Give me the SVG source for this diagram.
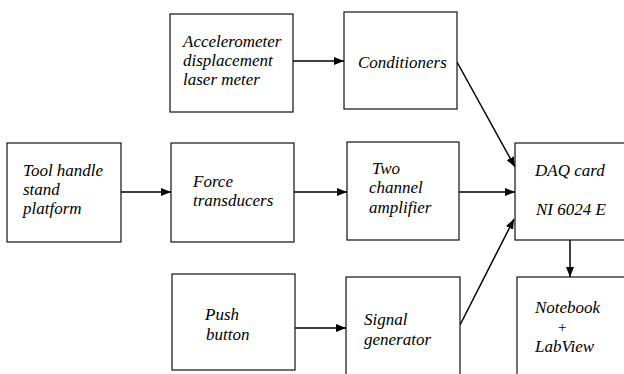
<svg xmlns="http://www.w3.org/2000/svg" width="624" height="374" viewBox="0 0 624 374">
<style>
.box{fill:#fff;stroke:#111;stroke-width:1.2}
.t{font-family:'Liberation Serif','Times New Roman','DejaVu Serif',serif;font-style:italic;font-size:17px;fill:#000}
.c{stroke:#000;stroke-width:1.5;fill:none;marker-end:url(#ah)}
</style>
<defs>
<marker id="ah" markerWidth="10" markerHeight="8" refX="10" refY="4" orient="auto" markerUnits="userSpaceOnUse">
<path d="M0,0 L10,4 L0,8 Z" fill="#000"/>
</marker>
</defs>
<rect width="624" height="374" fill="#fff"/>
<g id="connectors">
<line class="c" x1="293" y1="61" x2="344" y2="61"/>
<line class="c" x1="121" y1="192" x2="171" y2="192"/>
<line class="c" x1="294" y1="192" x2="347" y2="192"/>
<line class="c" x1="459" y1="192" x2="515" y2="192"/>
<line class="c" x1="295" y1="328" x2="346" y2="328"/>
<line class="c" x1="457" y1="62" x2="515" y2="167"/>
<line class="c" x1="460" y1="325" x2="514" y2="219"/>
<line class="c" x1="570" y1="240" x2="570" y2="277"/>
</g>
<g id="accelerometer">
<rect class="box" x="170" y="14" width="123" height="98"/>
<text class="t" x="183" y="47">Accelerometer</text>
<text class="t" x="183" y="66">displacement</text>
<text class="t" x="183" y="85">laser meter</text>
</g>
<g id="conditioners">
<rect class="box" x="344" y="12" width="113" height="97"/>
<text class="t" x="358" y="68">Conditioners</text>
</g>
<g id="toolhandle">
<rect class="box" x="7" y="143" width="114" height="99"/>
<text class="t" x="23" y="176">Tool handle</text>
<text class="t" x="23" y="195">stand</text>
<text class="t" x="23" y="214">platform</text>
</g>
<g id="force">
<rect class="box" x="171" y="143" width="123" height="99"/>
<text class="t" x="193" y="187">Force</text>
<text class="t" x="193" y="206">transducers</text>
</g>
<g id="amplifier">
<rect class="box" x="347" y="142" width="112" height="98"/>
<text class="t" x="372" y="174">Two</text>
<text class="t" x="369" y="193">channel</text>
<text class="t" x="369" y="213">amplifier</text>
</g>
<g id="daq">
<rect class="box" x="515" y="143" width="120" height="97"/>
<text class="t" x="535" y="176">DAQ card</text>
<text class="t" x="536" y="215">NI 6024 E</text>
</g>
<g id="pushbutton">
<rect class="box" x="172" y="274" width="123" height="96"/>
<text class="t" x="205" y="320">Push</text>
<text class="t" x="206" y="340">button</text>
</g>
<g id="signalgen">
<rect class="box" x="346" y="277" width="114" height="110"/>
<text class="t" x="364" y="325">Signal</text>
<text class="t" x="364" y="345">generator</text>
</g>
<g id="notebook">
<rect class="box" x="517" y="277" width="120" height="110"/>
<text class="t" x="535" y="313">Notebook</text>
<text class="t" x="562" y="332" text-anchor="middle" style="font-size:15px">+</text>
<text class="t" x="535" y="352">LabView</text>
</g>
</svg>
